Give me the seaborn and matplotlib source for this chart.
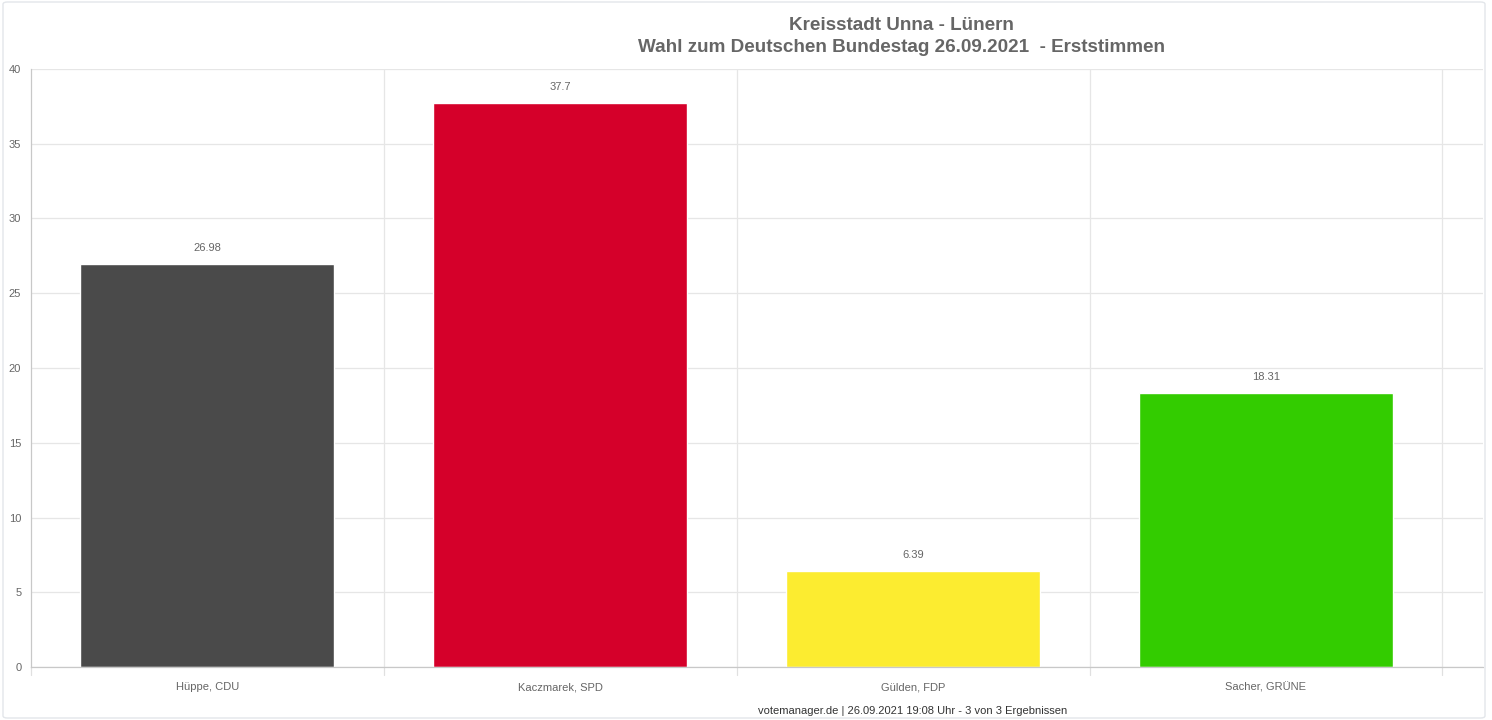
import matplotlib
matplotlib.use("Agg")
import matplotlib.pyplot as plt
import seaborn as sns
import pandas as pd
from matplotlib.patches import FancyBboxPatch

candidates = ["Hüppe, CDU", "Kaczmarek, SPD", "Gülden, FDP", "Sacher, GRÜNE"]
values = [26.98, 37.7, 6.39, 18.31]
colors = ["#4a4a4a", "#d5002a", "#fcec30", "#33cc00"]
yticks = [0, 5, 10, 15, 20, 25, 30, 35, 40]
title_lines = ["Kreisstadt Unna - Lünern", "Wahl zum Deutschen Bundestag 26.09.2021  - Erststimmen"]
footer = "votemanager.de | 26.09.2021 19:08 Uhr - 3 von 3 Ergebnissen"

sns.set_style("white")
plt.rcParams["font.family"] = ["Liberation Sans", "DejaVu Sans"]

W, H = 1492, 720
fig = plt.figure(figsize=(W / 100, H / 100), dpi=100)

# container border
fig.patches.append(FancyBboxPatch((3 / W, 2 / H), 1482 / W, 716 / H,
                                  boxstyle="round,pad=0,rounding_size=0.003",
                                  transform=fig.transFigure, fill=False,
                                  edgecolor="#e3e6ea", linewidth=1.0))

ax = fig.add_axes([31 / W, 1 - 667 / H, (1483 - 31) / W, (667 - 69) / H])

df = pd.DataFrame({"cand": candidates, "val": values})
sns.barplot(data=df, x="cand", y="val", hue="cand", palette=colors,
            order=candidates, hue_order=candidates, legend=False,
            width=0.72, saturation=1, ax=ax, zorder=2)

ax.set_xlim(-0.5, 3.615)
ax.set_ylim(0, 40)
ax.set_yticks(yticks)
ax.set_yticklabels([str(t) for t in yticks])
ax.set_xticks(range(len(candidates)))
ax.set_xticklabels(candidates)
ax.set_xlabel("")
ax.set_ylabel("")

# grid
for t in yticks:
    ax.axhline(t, color="#e6e6e6", lw=0.9, zorder=0)
for b in [0.5, 1.5, 2.5, 3.5]:
    ax.axvline(b, color="#e6e6e6", lw=0.9, zorder=0)
# x boundary tick marks
for b in [-0.5, 0.5, 1.5, 2.5, 3.5]:
    ax.plot([b, b], [0, -0.55], color="#e0e0e0", lw=0.9, clip_on=False, zorder=1)

for s in ["top", "right"]:
    ax.spines[s].set_visible(False)
ax.spines["left"].set_color("#c8c8c8")
ax.spines["bottom"].set_color("#c8c8c8")
ax.spines["left"].set_linewidth(0.9)
ax.spines["bottom"].set_linewidth(0.9)

ax.tick_params(axis="y", length=4, color="#c8c8c8", labelsize=8, labelcolor="#666666", pad=3)
ax.tick_params(axis="x", length=0, labelsize=8, labelcolor="#666666", pad=11)

for cont in ax.containers:
    ax.bar_label(cont, labels=[f"{v:g}" for v in cont.datavalues], padding=8,
                 fontsize=8, color="#666666")

fig.text(901 / W, 1 - 25 / H, title_lines[0], ha="center", va="center",
         fontsize=13.6, fontweight="bold", color="#666666")
fig.text(901 / W, 1 - 48 / H, title_lines[1], ha="center", va="center",
         fontsize=13.6, fontweight="bold", color="#666666")
fig.text(913 / W, 1 - 711 / H, footer, ha="center", va="center",
         fontsize=8, color="#333333")

fig.savefig("out.png", dpi=100)
